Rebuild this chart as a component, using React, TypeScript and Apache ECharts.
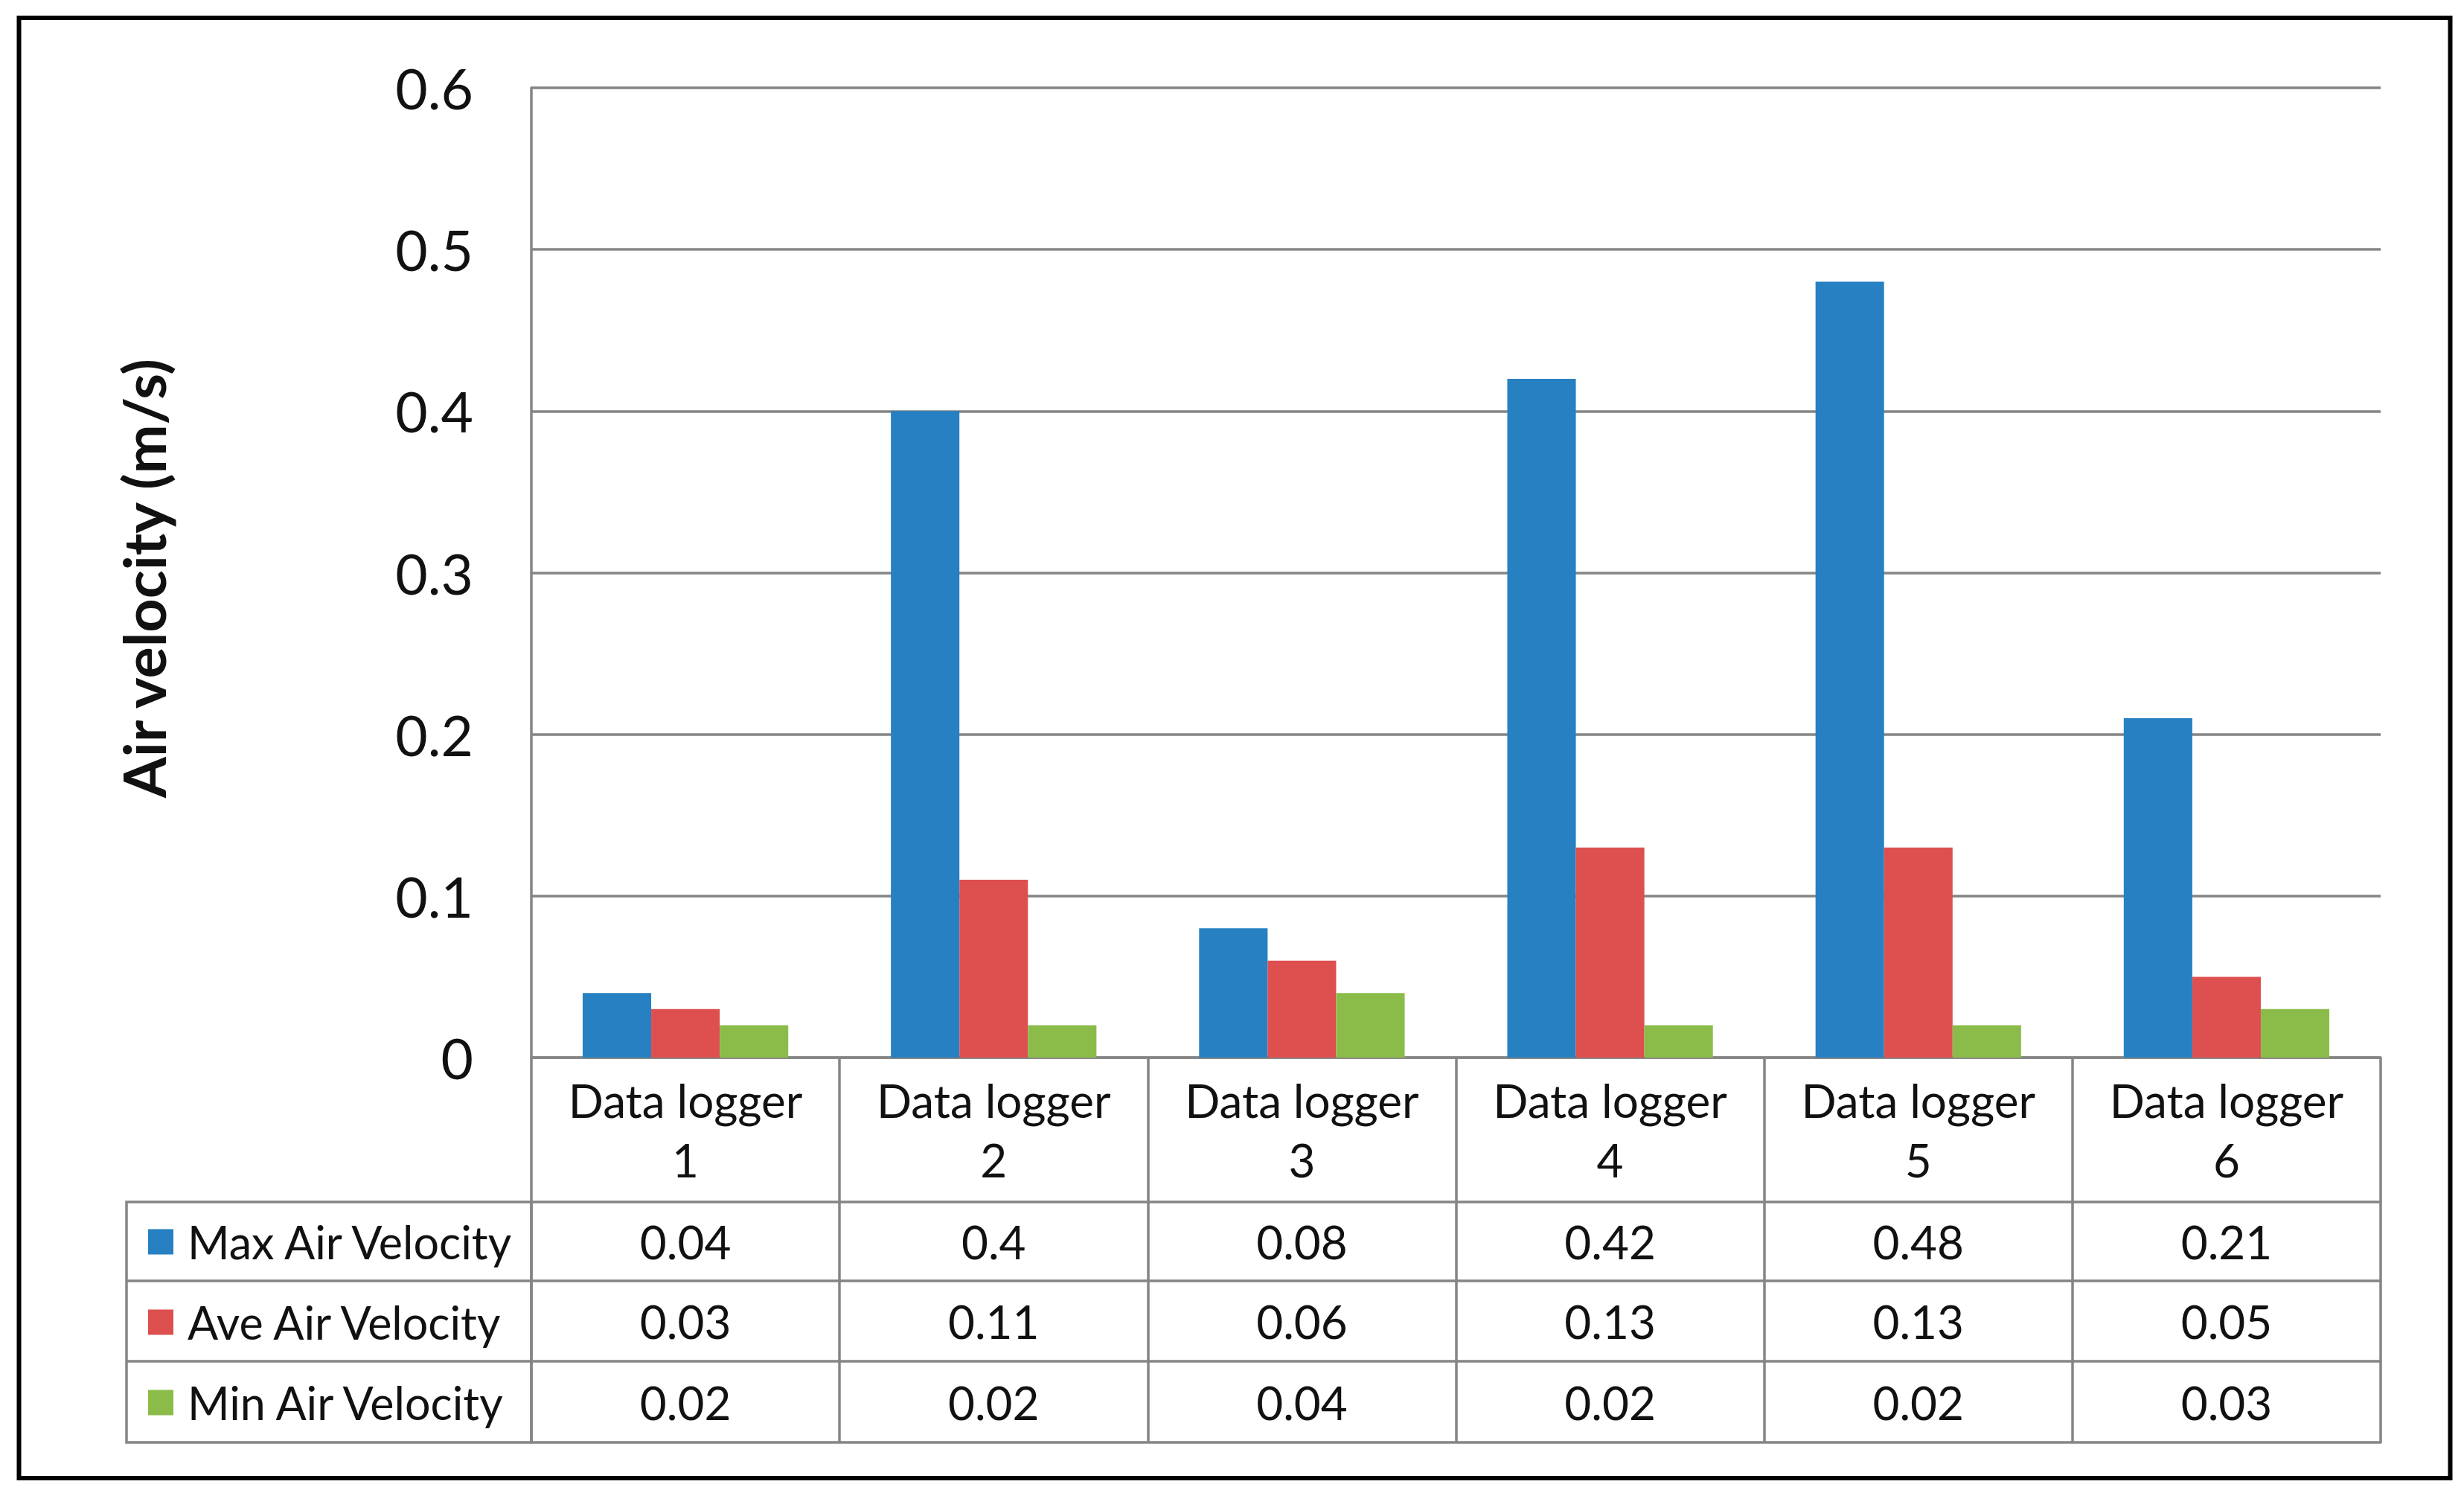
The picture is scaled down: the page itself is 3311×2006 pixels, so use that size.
import React, { useEffect, useRef } from "react";
import * as echarts from "echarts";

const categories = ["Data logger 1", "Data logger 2", "Data logger 3", "Data logger 4", "Data logger 5", "Data logger 6"];
const maxVelocity = [0.04, 0.4, 0.08, 0.42, 0.48, 0.21];
const aveVelocity = [0.03, 0.11, 0.06, 0.13, 0.13, 0.05];
const minVelocity = [0.02, 0.02, 0.04, 0.02, 0.02, 0.03];
const seriesNames = ["Max Air Velocity", "Ave Air Velocity", "Min Air Velocity"];
const seriesColors = ["#2680C2", "#DE4F4F", "#8BBC4A"];
const yTicks = { min: 0, max: 0.6, interval: 0.1 };

const FONT = "Lato";
const GRAY = "#858585";
const LW = 3.5;
const TXT = "#111111";

export default function App() {
  const ref = useRef<HTMLDivElement>(null);
  useEffect(() => {
    if (!ref.current) return;
    const chart = echarts.init(ref.current, null, { renderer: "svg" });
    const gridLeft = 714, gridTop = 118, gridRight = 3199, gridBottom = 1421;
    const rowOffsets = [194, 300, 408, 517];
    const rowValues = [maxVelocity, aveVelocity, minVelocity];
    const legendLeft = 170;

    const dataAxes = rowValues.map((vals, r) => ({
      type: "category",
      data: categories,
      position: "bottom",
      offset: rowOffsets[r],
      axisLine: { show: true, lineStyle: { color: GRAY, width: LW } },
      axisTick: { show: true, interval: 0, length: rowOffsets[r + 1] - rowOffsets[r], lineStyle: { color: GRAY, width: LW } },
      axisLabel: {
        show: true,
        interval: 0,
        margin: (rowOffsets[r + 1] - rowOffsets[r]) / 2,
        verticalAlign: "middle",
        fontFamily: FONT,
        fontSize: 62,
        color: TXT,
        formatter: (_v: string, i: number) => String(vals[i]),
      },
      splitLine: { show: false },
    }));

    const option: any = {
      animation: false,
      backgroundColor: "#ffffff",
      grid: { left: gridLeft, top: gridTop, width: gridRight - gridLeft, height: gridBottom - gridTop, containLabel: false },
      legend: {
        orient: "vertical",
        left: legendLeft + 29,
        top: 1638,
        padding: 0,
        itemWidth: 34,
        itemHeight: 34,
        itemGap: 47,
        icon: "rect",
        data: seriesNames,
        selectedMode: false,
        textStyle: { fontFamily: FONT, fontSize: 61, color: TXT, lineHeight: 60, padding: [0, 0, 0, 14] },
      },
      xAxis: [
        {
          type: "category",
          data: categories,
          position: "bottom",
          axisLine: { show: true, lineStyle: { color: GRAY, width: LW } },
          axisTick: { show: true, interval: 0, length: rowOffsets[0], lineStyle: { color: GRAY, width: LW } },
          axisLabel: {
            interval: 0,
            margin: rowOffsets[0] / 2,
            verticalAlign: "middle",
            align: "center",
            fontFamily: FONT,
            fontSize: 62,
            lineHeight: 80,
            color: TXT,
            formatter: (v: string) => v.replace(/ (\d+)$/, "\n$1"),
          },
          splitLine: { show: false },
        },
        ...dataAxes,
        {
          type: "category",
          data: categories,
          position: "bottom",
          offset: rowOffsets[3],
          axisLine: { show: true, lineStyle: { color: GRAY, width: LW } },
          axisTick: { show: false },
          axisLabel: { show: false },
        },
      ],
      yAxis: {
        type: "value",
        min: yTicks.min,
        max: yTicks.max,
        interval: yTicks.interval,
        axisLine: { show: true, lineStyle: { color: GRAY, width: LW } },
        axisTick: { show: false },
        axisLabel: { margin: 78, fontFamily: FONT, fontSize: 75, color: TXT },
        splitLine: { show: true, lineStyle: { color: GRAY, width: LW } },
      },
      series: [maxVelocity, aveVelocity, minVelocity].map((d, i) => ({
        name: seriesNames[i],
        type: "bar",
        data: d,
        xAxisIndex: 0,
        barGap: "0%",
        barCategoryGap: "33.3%",
        itemStyle: { color: seriesColors[i] },
      })),
      graphic: [
        {
          type: "rect",
          shape: { x: 25.5, y: 24, width: 3267, height: 1962 },
          style: { fill: "none", stroke: "#000", lineWidth: 6 },
          silent: true,
        },
        {
          type: "rect",
          shape: { x: legendLeft, y: gridBottom + rowOffsets[0], width: gridLeft - legendLeft, height: rowOffsets[3] - rowOffsets[0] },
          style: { fill: "none", stroke: GRAY, lineWidth: LW },
          silent: true,
        },
        ...[1, 2].map((k) => ({
          type: "line",
          shape: { x1: legendLeft, y1: gridBottom + rowOffsets[k], x2: gridLeft, y2: gridBottom + rowOffsets[k] },
          style: { stroke: GRAY, lineWidth: LW },
          silent: true,
        })),
        {
          type: "text",
          x: 192,
          y: 777,
          rotation: Math.PI / 2,
          style: {
            text: "Air velocity (m/s)",
            fontFamily: FONT,
            fontWeight: "bold",
            fontSize: 79,
            fill: TXT,
            align: "center",
            verticalAlign: "middle",
          },
        },
      ],
    };
    chart.setOption(option);
    return () => chart.dispose();
  }, []);
  return (
    <div
      ref={ref}
      style={{ position: "absolute", left: 0, top: 0, width: 3311, height: 2006, background: "#fff" }}
    />
  );
}
